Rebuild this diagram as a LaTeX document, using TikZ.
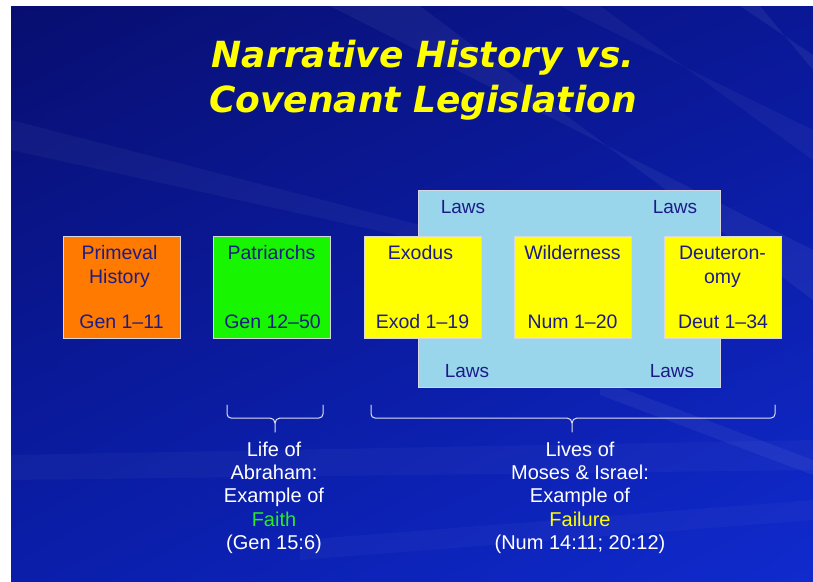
\documentclass[tikz,border=0pt]{standalone}
\usepackage{fontspec}
\usetikzlibrary{shadings}
\setmainfont{Liberation Sans}
\newfontfamily\titlefont{DejaVu Sans}
\definecolor{bgTL}{RGB}{8,14,112}
\definecolor{bgTR}{RGB}{10,24,150}
\definecolor{bgBL}{RGB}{10,30,170}
\definecolor{bgBR}{RGB}{16,42,205}
\definecolor{navytxt}{RGB}{28,28,135}
\definecolor{orangebox}{RGB}{255,122,0}
\definecolor{greenbox}{RGB}{24,245,0}
\definecolor{yellowbox}{RGB}{255,255,0}
\definecolor{lightblue}{RGB}{153,214,236}
\definecolor{boxline}{RGB}{215,215,225}
\definecolor{bracecol}{RGB}{225,225,235}
\definecolor{faithgreen}{RGB}{40,235,40}
\definecolor{titleyellow}{RGB}{255,255,0}
\begin{document}
\begin{tikzpicture}[x=1pt,y=-1pt,
  box/.style={draw=boxline, line width=0.8pt, minimum width=117pt, minimum height=102pt, inner sep=0pt, anchor=north west},
  boxtext/.style={text=navytxt, font=\fontsize{19.5}{24}\selectfont, align=center, inner sep=0pt},
  laws/.style={text=navytxt, font=\fontsize{19}{23}\selectfont, inner sep=0pt, anchor=base},
  note/.style={text=white, font=\fontsize{20}{23.3}\selectfont, align=center, inner sep=0pt, anchor=north},
  titletext/.style={font=\titlefont\bfseries\itshape\fontsize{36}{44}\selectfont, inner sep=0pt, anchor=base},
  bracepath/.style={draw=bracecol, line width=1pt, line cap=round, line join=round}]
\useasboundingbox (0,0) rectangle (813,581);
\fill[white] (0,0) rectangle (813,581);
\shade[upper left=bgTL, upper right=bgTR, lower left=bgBL, lower right=bgBR] (11,6) rectangle (813,581);
% faint streaks
\begin{scope}
\clip (11,6) rectangle (813,581);
\fill[white, opacity=0.05] (330,6) -- (420,6) -- (813,300) -- (813,250) -- cycle;
\fill[white, opacity=0.04] (560,6) -- (600,6) -- (813,160) -- (813,130) -- cycle;
\fill[white, opacity=0.06] (740,6) -- (760,6) -- (813,70) -- (813,55) -- cycle;
\fill[white, opacity=0.04] (11,120) -- (11,150) -- (420,240) -- (420,225) -- cycle;
\fill[white, opacity=0.03] (11,455) -- (11,480) -- (813,470) -- (813,440) -- cycle;
\fill[white, opacity=0.03] (300,540) -- (813,500) -- (813,520) -- (300,560) -- cycle;
\fill[white, opacity=0.05] (600,380) -- (813,460) -- (813,475) -- (600,395) -- cycle;
\end{scope}
% title
\node[titletext, text=titleyellow] (t1) at (423,67) {Narrative History vs.};
\node[titletext, text=titleyellow] (t2) at (423,112) {Covenant Legislation};
% laws background
\node[draw=boxline, line width=0.8pt, fill=lightblue, minimum width=302pt, minimum height=197pt, anchor=north west, inner sep=0pt] (lawsbg) at (418,190) {};
\node[laws] (lawTL) at (463,213) {Laws};
\node[laws] (lawTR) at (675,213) {Laws};
\node[laws] (lawBL) at (467,377) {Laws};
\node[laws] (lawBR) at (672,377) {Laws};
% boxes
\node[box, fill=orangebox] (prim) at (63,236) {};
\node[box, fill=greenbox] (patr) at (213,236) {};
\node[box, fill=yellowbox] (exod) at (364,236) {};
\node[box, fill=yellowbox] (wild) at (514,236) {};
\node[box, fill=yellowbox] (deut) at (664,236) {};
\node[boxtext, anchor=north] (primT) at (119.5,242.2) {\strut Primeval\\History};
\node[boxtext, anchor=north] (patrT) at (271.5,242.2) {\strut Patriarchs};
\node[boxtext, anchor=north] (exodT) at (420.5,242.2) {\strut Exodus};
\node[boxtext, anchor=north] (wildT) at (572.5,242.2) {\strut Wilderness};
\node[boxtext, anchor=north] (deutT) at (722.5,242.2) {\strut Deuteron-\\omy};
\node[boxtext, anchor=base] (primR) at (121.5,328) {Gen 1\textendash 11};
\node[boxtext, anchor=base] (patrR) at (272.5,328) {Gen 12\textendash 50};
\node[boxtext, anchor=base] (exodR) at (422.5,328) {Exod 1\textendash 19};
\node[boxtext, anchor=base] (wildR) at (572.5,328) {Num 1\textendash 20};
\node[boxtext, anchor=base] (deutR) at (723,328) {Deut 1\textendash 34};
% braces
\coordinate (b1l) at (227,405);
\coordinate (b1r) at (323,405);
\coordinate (b1t) at (275,432);
\draw[bracepath] (b1l) -- (227,414) to[out=-90,in=180] (231,418) -- (270,418) to[out=0,in=90] (275,423) -- (b1t);
\draw[bracepath] (b1r) -- (323,414) to[out=-90,in=0] (319,418) -- (280,418) to[out=180,in=90] (275,423);
\coordinate (b2l) at (371,405);
\coordinate (b2r) at (775,405);
\coordinate (b2t) at (572,432);
\draw[bracepath] (b2l) -- (371,414) to[out=-90,in=180] (375,418) -- (567,418) to[out=0,in=90] (572,423) -- (b2t);
\draw[bracepath] (b2r) -- (775,414) to[out=-90,in=0] (771,418) -- (577,418) to[out=180,in=90] (572,423);
% notes
\node[note] (abr) at (274,439.7) {\strut Life of\\Abraham:\\Example of\\\textcolor{faithgreen}{Faith}\\(Gen 15:6)};
\node[note] (mos) at (580,439.7) {\strut Lives of\\Moses \& Israel:\\Example of\\\textcolor{titleyellow}{Failure}\\(Num 14:11; 20:12)};
\end{tikzpicture}
\end{document}
